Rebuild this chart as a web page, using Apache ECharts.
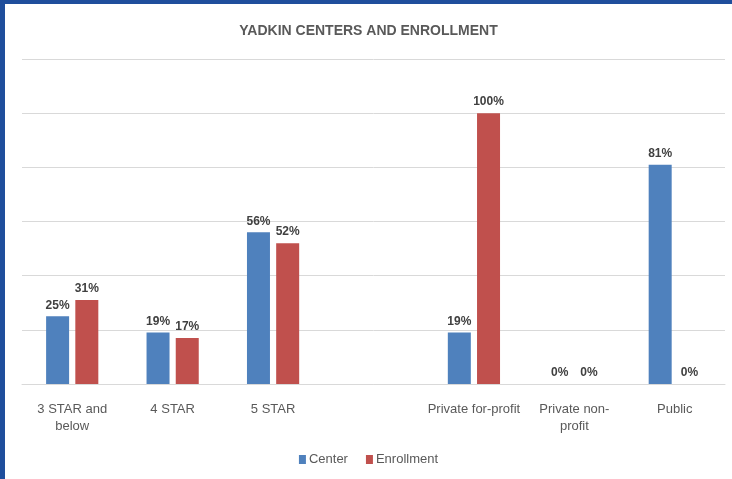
<!DOCTYPE html>
<html>
<head>
<meta charset="utf-8">
<script src="https://cdn.jsdelivr.net/npm/echarts@6/dist/echarts.min.js"></script>
<style>
  html, body { margin: 0; padding: 0; background: #fff; }
  #wrap { width: 727px; height: 475px; border-left: 5px solid #1F4E9C; border-top: 4px solid #1F4E9C; }
  #chart { width: 727px; height: 475px; }
</style>
</head>
<body>
<div id="wrap"><div id="chart"></div></div>
<script>
const categories = ['3 STAR and\nbelow', '4 STAR', '5 STAR', '', 'Private for-profit', 'Private non-\nprofit', 'Public'];
const centerValues = [25, 19, 56, null, 19, 0, 81];
const enrollmentValues = [31, 17, 52, null, 100, 0, 0];
const yTicks = { min: 0, max: 120, interval: 20 };

const chart = echarts.init(document.getElementById('chart'));
const labelStyle = {
  show: true, position: 'top', distance: 5,
  formatter: p => p.value + '%',
  fontFamily: 'Liberation Sans, Arial, sans-serif', fontWeight: 'bold', fontSize: 12, color: '#404040'
};
chart.setOption({
  animation: false,
  title: {
    text: 'YADKIN CENTERS AND ENROLLMENT',
    left: 'center', top: 15,
    textStyle: { fontFamily: 'Liberation Sans, Arial, sans-serif', fontWeight: 'bold', fontSize: 14, color: '#595959' }
  },
  legend: {
    bottom: 8, left: 'center',
    icon: 'rect', itemWidth: 7, itemHeight: 9, itemGap: 18,
    textStyle: { fontFamily: 'Liberation Sans, Arial, sans-serif', fontSize: 13, color: '#595959', padding: [0, 0, 0, -2] },
    data: ['Center', 'Enrollment']
  },
  grid: { left: 17, right: 7, top: 55, bottom: 95, containLabel: false },
  xAxis: {
    type: 'category', data: categories,
    axisLine: { lineStyle: { color: '#d9d9d9' } },
    axisTick: { show: false },
    axisLabel: { fontFamily: 'Liberation Sans, Arial, sans-serif', fontSize: 13, color: '#595959', margin: 17, interval: 0, lineHeight: 17 }
  },
  yAxis: {
    type: 'value', min: yTicks.min, max: yTicks.max, interval: yTicks.interval,
    axisLabel: { show: false },
    axisLine: { show: false }, axisTick: { show: false },
    splitLine: { lineStyle: { color: '#d9d9d9', width: 1 } }
  },
  series: [
    { name: 'Center', type: 'bar', data: centerValues, barWidth: 23, barGap: '27%', itemStyle: { color: '#4F81BD' }, label: labelStyle },
    { name: 'Enrollment', type: 'bar', data: enrollmentValues, barWidth: 23, itemStyle: { color: '#C0504D' }, label: labelStyle }
  ]
});
</script>
</body>
</html>
